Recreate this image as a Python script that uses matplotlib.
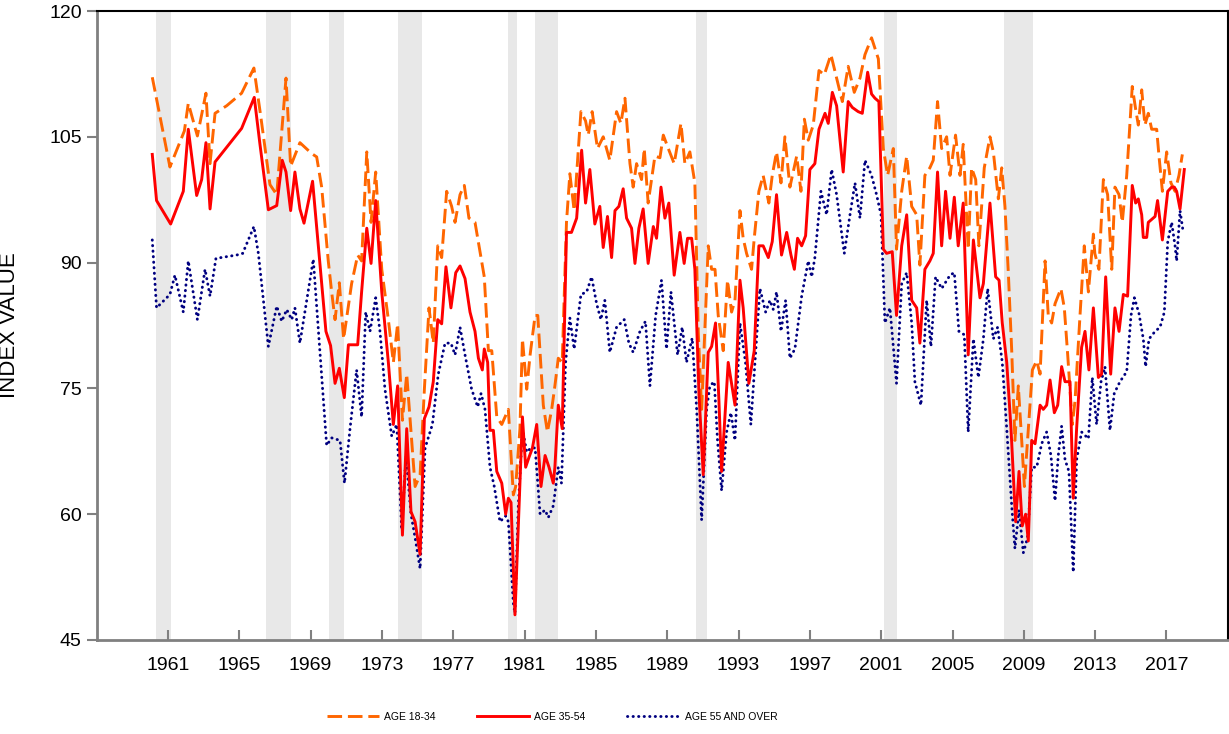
import matplotlib
matplotlib.use("Agg")
import matplotlib.pyplot as plt

plt.rcParams['font.family'] = ['Liberation Sans', 'DejaVu Sans']

# ---------------- data ----------------
age1834_x = [1960.12, 1961.11, 1961.92, 1962.14, 1962.65, 1963.13, 1963.36, 1963.64, 1964.29, 1965.13,
             1965.82, 1966.20, 1966.72, 1967.10, 1967.62, 1967.88, 1968.40, 1969.06, 1969.34, 1969.62,
             1969.99, 1970.18, 1970.37, 1970.61, 1970.85, 1971.30, 1971.64, 1971.86, 1972.15, 1972.39,
             1972.65, 1972.99, 1973.36, 1973.64, 1973.88, 1974.15, 1974.39, 1974.63, 1974.86, 1975.14,
             1975.38, 1975.64, 1975.88, 1976.13, 1976.35, 1976.63, 1976.91, 1977.10, 1977.38, 1977.62,
             1977.88, 1978.22, 1978.74, 1978.97, 1979.16, 1979.44, 1979.72, 1980.09, 1980.37, 1980.50,
             1980.74, 1980.88, 1981.12, 1981.31, 1981.59, 1981.74, 1982.05, 1982.28, 1982.52, 1982.70,
             1982.89, 1983.11, 1983.35, 1983.54, 1983.78, 1984.16, 1984.42, 1984.57, 1984.79, 1985.09,
             1985.41, 1985.78, 1986.16, 1986.40, 1986.63, 1986.91, 1987.09, 1987.28, 1987.56, 1987.71,
             1987.93, 1988.31, 1988.59, 1988.78, 1989.06, 1989.39, 1989.77, 1989.99, 1990.27, 1990.55,
             1990.74, 1990.93, 1991.30, 1991.49, 1991.68, 1991.86, 1992.14, 1992.38, 1992.61, 1992.80,
             1993.08, 1993.26, 1993.45, 1993.73, 1993.88, 1994.14, 1994.38, 1994.70, 1994.89, 1995.13,
             1995.38, 1995.60, 1995.88, 1996.26, 1996.50, 1996.69, 1996.91, 1997.19, 1997.51, 1997.81,
             1998.18, 1998.50, 1998.82, 1999.15, 1999.49, 1999.81, 2000.09, 2000.46, 2000.84, 2001.12,
             2001.36, 2001.68, 2001.86, 2002.15, 2002.43, 2002.71, 2002.99, 2003.17, 2003.45, 2003.73,
             2003.92, 2004.16, 2004.39, 2004.67, 2004.86, 2005.17, 2005.42, 2005.60, 2005.88, 2006.07,
             2006.30, 2006.48, 2006.78, 2007.10, 2007.29, 2007.57, 2007.76, 2007.94, 2008.13, 2008.32,
             2008.50, 2008.69, 2008.88, 2009.03, 2009.21, 2009.48, 2009.72, 2009.91, 2010.19, 2010.37,
             2010.56, 2010.75, 2011.08, 2011.27, 2011.46, 2011.72, 2011.87, 2012.15, 2012.39, 2012.62,
             2012.90, 2012.98, 2013.21, 2013.46, 2013.70, 2013.93, 2014.11, 2014.34, 2014.52, 2014.77,
             2015.08, 2015.27, 2015.42, 2015.61, 2015.79, 2015.98, 2016.17, 2016.45, 2016.58, 2016.77,
             2017.01, 2017.25, 2017.48, 2017.70, 2017.89]
age1834_v = [112.1, 101.4, 105.7, 109.0, 105.1, 110.2, 101.8, 107.8, 108.7, 110.2,
             113.2, 107.5, 99.3, 98.1, 112.0, 101.5, 104.3, 103.0, 102.6, 99.0,
             90.2, 86.5, 83.2, 87.6, 80.9, 87.5, 90.9, 90.2, 103.2, 94.8,
             100.8, 89.2, 83.2, 78.1, 82.7, 71.2, 76.7, 69.8, 63.3, 64.7,
             74.9, 84.6, 80.4, 92.0, 90.6, 98.5, 96.7, 94.8, 98.1, 99.2,
             95.3, 94.8, 88.3, 79.5, 79.5, 71.6, 70.7, 72.5, 62.3, 63.3,
             70.2, 80.9, 74.9, 79.0, 83.7, 83.7, 73.0, 69.8, 72.5, 75.3,
             78.6, 78.1, 94.8, 100.6, 96.2, 108.0, 106.9, 105.2, 108.0, 103.6,
             105.0, 102.2, 108.0, 106.6, 109.6, 101.8, 99.0, 101.8, 99.9, 103.6,
             97.1, 102.7, 102.5, 105.2, 103.6, 101.8, 106.6, 101.8, 103.2, 99.5,
             81.8, 72.5, 92.0, 89.2, 89.2, 83.7, 79.5, 87.9, 84.1, 85.5,
             96.2, 92.9, 91.1, 89.2, 92.9, 98.5, 100.4, 97.1, 100.4, 103.2,
             99.5, 105.0, 99.0, 102.7, 98.5, 107.1, 104.6, 106.4, 112.9, 112.4,
             114.8, 112.0, 109.2, 113.4, 110.3, 112.0, 114.8, 116.8, 114.3, 103.6,
             100.4, 103.6, 91.6, 98.5, 102.7, 96.7, 95.7, 89.7, 100.4, 101.3,
             102.2, 109.2, 103.6, 105.0, 100.4, 105.2, 100.4, 104.1, 91.6, 101.3,
             99.9, 92.0, 101.3, 105.0, 103.2, 97.6, 101.3, 96.7, 88.8, 79.5,
             68.8, 75.3, 68.8, 63.3, 68.8, 77.2, 78.3, 76.7, 90.2, 83.7,
             82.8, 85.1, 86.9, 84.6, 79.0, 70.7, 73.5, 83.7, 92.0, 86.5,
             93.4, 91.1, 89.2, 99.9, 98.1, 89.2, 99.0, 98.1, 94.8, 100.4,
             111.0, 108.3, 106.4, 110.6, 106.4, 107.8, 105.9, 105.9, 102.7, 98.5,
             103.2, 99.5, 98.5, 100.4, 102.9]

age3554_x = [1960.12, 1960.36, 1961.15, 1961.86, 1962.14, 1962.61, 1962.89, 1963.13, 1963.36, 1963.64,
             1965.13, 1965.84, 1966.16, 1966.63, 1967.10, 1967.41, 1967.62, 1967.88, 1968.12, 1968.40,
             1968.63, 1969.11, 1969.86, 1970.12, 1970.37, 1970.61, 1970.89, 1971.12, 1971.64, 1971.86,
             1972.15, 1972.39, 1972.65, 1972.99, 1973.36, 1973.64, 1973.88, 1974.15, 1974.39, 1974.63,
             1974.86, 1975.14, 1975.38, 1975.64, 1975.88, 1976.13, 1976.35, 1976.59, 1976.87, 1977.14,
             1977.38, 1977.66, 1977.94, 1978.22, 1978.41, 1978.63, 1978.74, 1978.93, 1979.06, 1979.25,
             1979.44, 1979.72, 1979.94, 1980.09, 1980.24, 1980.46, 1980.65, 1980.88, 1981.06, 1981.25,
             1981.44, 1981.68, 1981.92, 1982.15, 1982.37, 1982.61, 1982.70, 1982.89, 1983.11, 1983.35,
             1983.63, 1983.92, 1984.20, 1984.42, 1984.66, 1984.94, 1985.22, 1985.41, 1985.65, 1985.88,
             1986.07, 1986.29, 1986.53, 1986.72, 1987.00, 1987.19, 1987.41, 1987.65, 1987.93, 1988.22,
             1988.40, 1988.65, 1988.87, 1989.09, 1989.39, 1989.71, 1989.95, 1990.14, 1990.37, 1990.55,
             1990.78, 1991.02, 1991.30, 1991.49, 1991.71, 1991.90, 1992.05, 1992.42, 1992.80, 1993.08,
             1993.26, 1993.58, 1993.88, 1994.14, 1994.38, 1994.67, 1994.89, 1995.13, 1995.41, 1995.70,
             1995.94, 1996.13, 1996.31, 1996.54, 1996.76, 1997.00, 1997.28, 1997.51, 1997.85, 1998.03,
             1998.26, 1998.50, 1998.87, 1999.15, 1999.38, 1999.71, 1999.94, 2000.24, 2000.46, 2000.65,
             2000.87, 2001.12, 2001.30, 2001.62, 2001.86, 2002.15, 2002.43, 2002.71, 2002.99, 2003.17,
             2003.45, 2003.73, 2003.92, 2004.16, 2004.39, 2004.61, 2004.86, 2005.10, 2005.32, 2005.60,
             2005.88, 2006.17, 2006.54, 2006.73, 2007.10, 2007.42, 2007.61, 2007.79, 2008.04, 2008.28,
             2008.54, 2008.73, 2008.91, 2009.10, 2009.25, 2009.44, 2009.63, 2009.91, 2010.09, 2010.28,
             2010.47, 2010.71, 2010.90, 2011.12, 2011.31, 2011.59, 2011.77, 2011.96, 2012.24, 2012.43,
             2012.65, 2012.90, 2013.18, 2013.36, 2013.59, 2013.87, 2014.11, 2014.34, 2014.58, 2014.82,
             2015.08, 2015.27, 2015.42, 2015.61, 2015.70, 2015.89, 2015.98, 2016.36, 2016.50, 2016.77,
             2017.07, 2017.29, 2017.44, 2017.57, 2017.76, 2018.00]
age3554_v = [102.9, 97.4, 94.6, 98.5, 105.9, 98.0, 99.9, 104.3, 96.4, 102.0,
             106.0, 109.7, 104.1, 96.3, 96.8, 102.2, 100.8, 96.2, 100.8, 96.4,
             94.7, 99.7, 81.8, 80.1, 75.6, 77.4, 73.9, 80.2, 80.2, 86.5,
             94.1, 89.9, 97.4, 86.5, 78.1, 70.7, 75.3, 57.5, 70.2, 60.3,
             59.1, 55.2, 71.4, 72.8, 75.8, 83.2, 82.7, 89.5, 84.6, 88.8,
             89.6, 88.1, 84.1, 81.8, 78.6, 77.2, 79.7, 78.1, 70.0, 70.0,
             65.1, 63.7, 60.0, 61.9, 61.4, 48.0, 58.6, 71.6, 65.6, 66.8,
             67.9, 70.7, 63.3, 67.0, 65.6, 63.7, 65.6, 73.0, 70.2, 93.6,
             93.6, 95.3, 103.4, 97.1, 101.1, 94.6, 96.7, 91.8, 95.5, 90.6,
             96.2, 96.7, 98.8, 95.3, 94.1, 89.9, 94.1, 96.4, 89.9, 94.3,
             92.9, 99.0, 95.3, 97.1, 88.5, 93.6, 89.9, 92.9, 92.9, 89.2,
             74.4, 64.7, 79.3, 80.0, 82.8, 73.5, 65.1, 78.1, 73.0, 87.9,
             84.6, 75.6, 79.5, 92.0, 92.0, 90.6, 92.5, 98.1, 90.9, 93.6,
             90.9, 89.2, 92.9, 92.0, 93.2, 101.1, 101.8, 105.9, 107.8, 106.6,
             110.3, 108.7, 100.8, 109.2, 108.5, 108.0, 107.8, 112.7, 110.1, 109.6,
             109.2, 91.6, 91.1, 91.3, 83.7, 92.0, 95.7, 85.5, 84.6, 80.4,
             89.2, 90.2, 91.1, 100.8, 92.0, 98.5, 92.9, 97.8, 92.0, 97.1,
             79.0, 92.7, 85.8, 87.5, 97.1, 88.3, 87.9, 82.8, 78.1, 70.2,
             59.1, 65.1, 58.6, 60.0, 56.8, 68.8, 68.4, 73.0, 72.5, 73.0,
             76.0, 72.1, 73.0, 77.6, 75.8, 75.8, 61.9, 70.2, 79.9, 81.8,
             77.2, 84.6, 76.3, 76.7, 88.3, 76.7, 84.6, 81.8, 86.2, 86.0,
             99.2, 97.1, 97.6, 95.7, 93.0, 93.0, 94.8, 95.5, 97.4, 92.7,
             98.5, 99.0, 99.0, 98.5, 96.4, 101.1]

age55_x = [1960.12, 1960.36, 1961.11, 1961.39, 1961.86, 1962.14, 1962.65, 1963.08, 1963.36, 1963.69,
           1964.85, 1965.19, 1965.82, 1966.07, 1966.63, 1967.10, 1967.38, 1967.66, 1967.94, 1968.12,
           1968.40, 1969.15, 1969.90, 1970.18, 1970.65, 1970.90, 1971.21, 1971.58, 1971.86, 1972.09,
           1972.33, 1972.65, 1972.89, 1973.17, 1973.55, 1973.83, 1974.11, 1974.35, 1974.63, 1974.86,
           1975.14, 1975.42, 1975.83, 1976.16, 1976.54, 1976.87, 1977.10, 1977.38, 1977.66, 1978.03,
           1978.37, 1978.56, 1978.78, 1979.06, 1979.30, 1979.62, 1979.94, 1980.09, 1980.37, 1980.46,
           1980.65, 1980.88, 1981.12, 1981.36, 1981.59, 1981.87, 1982.15, 1982.33, 1982.61, 1982.89,
           1983.07, 1983.30, 1983.54, 1983.78, 1984.16, 1984.48, 1984.76, 1985.04, 1985.28, 1985.50,
           1985.78, 1986.16, 1986.59, 1986.85, 1987.09, 1987.47, 1987.78, 1988.03, 1988.35, 1988.68,
           1988.96, 1989.21, 1989.58, 1989.84, 1990.08, 1990.40, 1990.65, 1990.93, 1991.21, 1991.39,
           1991.64, 1991.82, 1992.05, 1992.33, 1992.57, 1992.80, 1993.08, 1993.39, 1993.69, 1993.92,
           1994.20, 1994.52, 1994.76, 1994.95, 1995.13, 1995.38, 1995.64, 1995.88, 1996.16, 1996.54,
           1996.91, 1997.10, 1997.28, 1997.62, 1997.94, 1998.22, 1998.50, 1998.93, 1999.25, 1999.53,
           1999.81, 2000.09, 2000.46, 2000.74, 2000.99, 2001.21, 2001.49, 2001.86, 2002.15, 2002.43,
           2002.71, 2002.89, 2003.23, 2003.55, 2003.79, 2004.05, 2004.39, 2004.86, 2005.10, 2005.36,
           2005.66, 2005.88, 2006.17, 2006.45, 2006.73, 2006.97, 2007.29, 2007.53, 2007.79, 2008.04,
           2008.32, 2008.50, 2008.73, 2008.97, 2009.21, 2009.44, 2009.72, 2010.00, 2010.28, 2010.52,
           2010.75, 2010.93, 2011.12, 2011.31, 2011.53, 2011.77, 2011.96, 2012.24, 2012.62, 2012.84,
           2013.08, 2013.33, 2013.55, 2013.83, 2014.07, 2014.39, 2014.77, 2015.01, 2015.20, 2015.46,
           2015.70, 2015.83, 2016.02, 2016.36, 2016.64, 2016.88, 2017.07, 2017.29, 2017.48, 2017.57,
           2017.76, 2017.94]
age55_v = [92.7, 84.6, 86.2, 88.5, 84.1, 90.2, 83.2, 89.2, 86.0, 90.5,
           90.9, 91.1, 94.3, 91.1, 80.0, 84.8, 83.0, 84.4, 83.2, 84.6,
           80.4, 90.4, 68.2, 69.1, 68.8, 63.7, 70.2, 77.2, 71.6, 84.1,
           81.8, 85.8, 81.8, 74.9, 69.3, 70.7, 58.2, 67.0, 60.0, 57.2,
           53.5, 67.9, 70.7, 76.7, 80.4, 80.4, 79.0, 82.3, 79.0, 74.9,
           72.8, 74.4, 72.5, 65.6, 63.3, 59.1, 59.8, 59.1, 49.4, 48.2,
           61.0, 70.2, 67.4, 67.9, 67.9, 60.0, 60.5, 59.6, 61.0, 65.6,
           63.7, 78.1, 83.4, 79.7, 86.2, 86.5, 88.3, 85.1, 83.2, 85.5,
           79.3, 82.3, 83.2, 80.4, 79.3, 81.8, 83.0, 75.3, 83.7, 87.9,
           79.7, 86.5, 79.0, 82.3, 78.1, 81.0, 72.5, 59.3, 72.5, 75.3,
           75.8, 68.8, 62.8, 69.8, 72.1, 68.8, 82.8, 78.1, 70.7, 78.1,
           86.9, 84.1, 85.5, 84.4, 86.5, 81.8, 85.5, 78.6, 79.7, 86.0,
           90.2, 88.3, 90.6, 98.5, 95.7, 101.1, 98.1, 91.1, 95.7, 99.5,
           95.3, 102.2, 100.4, 98.1, 95.7, 82.8, 84.6, 75.6, 87.5, 88.8,
           82.8, 75.8, 73.0, 85.5, 80.0, 88.3, 86.9, 88.5, 88.8, 81.8,
           81.4, 69.8, 80.9, 76.3, 80.9, 86.9, 80.9, 82.3, 78.1, 70.2,
           61.0, 55.9, 60.5, 55.4, 57.2, 65.6, 65.6, 68.4, 69.8, 67.0,
           61.6, 67.0, 70.5, 66.5, 65.1, 53.1, 66.5, 69.8, 69.0, 76.3,
           70.7, 75.8, 77.6, 70.0, 74.4, 75.8, 77.0, 83.7, 85.8, 83.9,
           80.9, 77.6, 80.9, 81.8, 82.3, 84.1, 92.5, 94.8, 92.0, 90.2,
           96.2, 93.6]

recession_start = [1960.33, 1966.50, 1970.03, 1973.92, 1980.09, 1981.59, 1990.61, 2001.17, 2007.91]
recession_end = [1961.17, 1967.90, 1970.89, 1975.27, 1980.56, 1982.89, 1991.23, 2001.90, 2009.49]

year_ticks = list(range(1961, 2018, 4))
value_ticks = [45, 60, 75, 90, 105, 120]
series_labels = ["AGE 18-34", "AGE 35-54", "AGE 55 AND OVER"]

# ---------------- figure ----------------
fig = plt.figure(figsize=(12.29, 7.34), dpi=100)
ax = fig.add_axes([97 / 1229, 1 - 640 / 734, (1228 - 97) / 1229, (640 - 11) / 734])

for s, e in zip(recession_start, recession_end):
    ax.axvspan(s, e, color="#e8e8e8", lw=0, zorder=0)

l1, = ax.plot(age1834_x, age1834_v, color="#ff6600", lw=2.1, dashes=(5, 2),
              label=series_labels[0], zorder=3)
l2, = ax.plot(age3554_x, age3554_v, color="#ff0000", lw=2.1, solid_joinstyle="round",
              label=series_labels[1], zorder=4)
l3, = ax.plot(age55_x, age55_v, color="#000080", lw=2.1, linestyle=(0, (0.1, 1.8)),
              dash_capstyle="round", label=series_labels[2], zorder=2)

ax.set_xlim(1957.02, 2020.45)
ax.set_ylim(45, 120)
ax.set_xticks(year_ticks)
ax.set_xticklabels([str(y) for y in year_ticks], fontsize=14)
ax.set_yticks(value_ticks)
ax.set_yticklabels([str(v) for v in value_ticks], fontsize=14)
ax.tick_params(axis="x", direction="in", length=7, width=1.5, color="#808080", pad=12)
ax.tick_params(axis="y", direction="out", length=7, width=1.5, color="#808080", pad=4)

for side in ["left", "bottom"]:
    ax.spines[side].set_color("#808080")
    ax.spines[side].set_linewidth(2)
for side in ["top", "right"]:
    ax.spines[side].set_color("#000000")
    ax.spines[side].set_linewidth(1.5)

ax.set_ylabel("INDEX VALUE", fontsize=16)
ax.yaxis.set_label_coords(-0.068, 0.5)

fig.legend(handles=[l1, l2, l3], loc="center", bbox_to_anchor=(552 / 1229, 1 - 717 / 734),
           ncol=3, frameon=False, fontsize=7.5, handlelength=5, columnspacing=4.0,
           handletextpad=0.5)

fig.savefig("out.png", dpi=100)
